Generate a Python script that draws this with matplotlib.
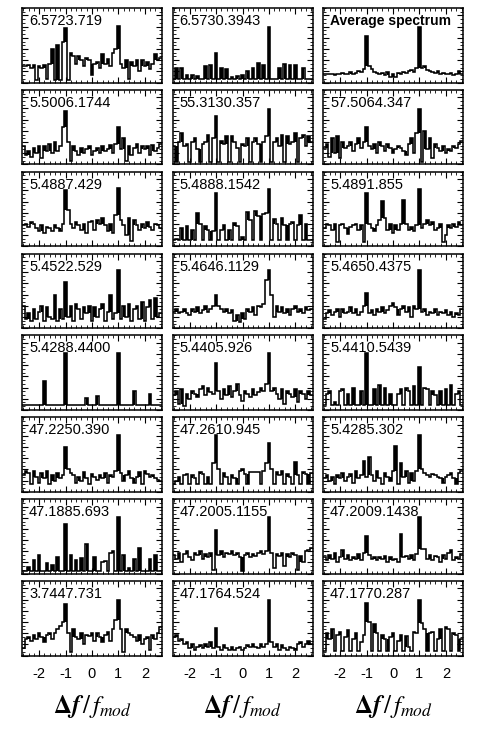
import numpy as np
import matplotlib
matplotlib.use('Agg')
import matplotlib.pyplot as plt
from matplotlib.ticker import MultipleLocator

plt.rcParams['font.family'] = ['Liberation Sans', 'DejaVu Sans']
plt.rcParams['axes.unicode_minus'] = False
plt.rcParams['mathtext.fontset'] = 'stix'

# panel titles, row by row
labels = ['6.5723.719', '6.5730.3943', 'Average spectrum',
          '5.5006.1744', '55.3130.357', '57.5064.347',
          '5.4887.429', '5.4888.1542', '5.4891.855',
          '5.4522.529', '5.4646.1129', '5.4650.4375',
          '5.4288.4400', '5.4405.926', '5.4410.5439',
          '47.2250.390', '47.2610.945', '5.4285.302',
          '47.1885.693', '47.2005.1155', '47.2009.1438',
          '3.7447.731', '47.1764.524', '47.1770.287']

xticks = [-2, -1, 0, 1, 2]

# relative power in 53 bins from -2.6 to 2.6 (step 0.1)
p11 = [0.22, 0.22, 0.24, 0.20, 0.23, 0.03, 0.22, 0.20, 0.24, 0.05, 0.25, 0.45, 0.03, 0.50, 0.03, 0.55,
       0.73,
       0.03, 0.40, 0.35, 0.25, 0.35, 0.30, 0.22, 0.33, 0.30, 0.10, 0.25, 0.28, 0.20, 0.38, 0.25, 0.32, 0.22, 0.40, 0.45,
       0.76,
       0.25, 0.20, 0.30, 0.05, 0.28, 0.22, 0.30, 0.15, 0.30, 0.22, 0.28, 0.18, 0.25, 0.38, 0.30, 0.33]
p12 = [0.05, 0.20, 0.05, 0.19, 0.05, 0.10, 0.05, 0.10, 0.05, 0.09,
       0.05, 0.05, 0.22, 0.05, 0.23, 0.05, 0.39, 0.05, 0.19, 0.05,
       0.18, 0.05, 0.08, 0.05, 0.09, 0.05, 0.10, 0.05, 0.16, 0.05,
       0.19, 0.05, 0.26, 0.05, 0.23, 0.05, 0.75, 0.05, 0.05, 0.05,
       0.19, 0.05, 0.25, 0.05, 0.24, 0.05, 0.23, 0.05, 0.05, 0.20,
       0.05, 0.05, 0.05]
p13 = [0.12, 0.11, 0.12, 0.12, 0.10, 0.11, 0.12, 0.13, 0.11, 0.12, 0.14, 0.12, 0.13, 0.15, 0.14, 0.18,
       0.62,
       0.22, 0.18, 0.14, 0.13, 0.12, 0.13, 0.10, 0.14, 0.08, 0.12, 0.07, 0.13, 0.12, 0.14, 0.13, 0.15, 0.17, 0.14, 0.20,
       0.75,
       0.20, 0.22, 0.17, 0.15, 0.14, 0.13, 0.15, 0.12, 0.13, 0.11, 0.12, 0.13, 0.10, 0.12, 0.15, 0.12]
p21 = [0.25, 0.12, 0.18, 0.10, 0.22, 0.15, 0.25, 0.08, 0.24, 0.18, 0.28, 0.15, 0.30, 0.18, 0.25, 0.50,
       0.72,
       0.30, 0.05, 0.25, 0.18, 0.12, 0.22, 0.15, 0.20, 0.25, 0.12, 0.18, 0.22, 0.15, 0.24, 0.18, 0.20, 0.26, 0.15, 0.28,
       0.50,
       0.20, 0.35, 0.05, 0.25, 0.12, 0.22, 0.28, 0.15, 0.25, 0.20, 0.24, 0.12, 0.26, 0.18, 0.22, 0.28]
p22 = [0.25, 0.03, 0.30, 0.42, 0.25, 0.28, 0.03, 0.30, 0.35, 0.20, 0.03, 0.28, 0.30, 0.40, 0.03, 0.35,
       0.65,
       0.03, 0.32, 0.28, 0.38, 0.03, 0.38, 0.30, 0.22, 0.03, 0.28, 0.25, 0.35, 0.03, 0.30, 0.35, 0.28, 0.03, 0.30, 0.38,
       0.74,
       0.03, 0.30, 0.35, 0.25, 0.40, 0.03, 0.38, 0.28, 0.30, 0.42, 0.03, 0.35, 0.40, 0.25, 0.38, 0.30]
p23 = [0.22, 0.28, 0.10, 0.35, 0.15, 0.38, 0.08, 0.30, 0.22, 0.25, 0.30, 0.18, 0.28, 0.35, 0.22, 0.30,
       0.50,
       0.25, 0.20, 0.28, 0.15, 0.30, 0.25, 0.18, 0.28, 0.22, 0.15, 0.20, 0.25, 0.22, 0.18, 0.12, 0.28, 0.35, 0.15, 0.42,
       0.74,
       0.03, 0.45, 0.20, 0.35, 0.08, 0.28, 0.22, 0.18, 0.25, 0.15, 0.20, 0.18, 0.25, 0.22, 0.28, 0.32]
p31 = [0.28, 0.30, 0.26, 0.32, 0.30, 0.25, 0.20, 0.28, 0.18, 0.26, 0.25, 0.20, 0.28, 0.25, 0.20, 0.30,
       0.76,
       0.49, 0.30, 0.25, 0.32, 0.28, 0.22, 0.30, 0.18, 0.32, 0.34, 0.22, 0.35, 0.30, 0.38, 0.28, 0.20, 0.30, 0.18, 0.42,
       0.78,
       0.35, 0.28, 0.15, 0.38, 0.07, 0.35, 0.28, 0.22, 0.30, 0.25, 0.32, 0.26, 0.22, 0.30, 0.28, 0.25]
p32 = [0.08, 0.10, 0.08, 0.25, 0.08, 0.27, 0.08, 0.22, 0.08, 0.44, 0.30, 0.08, 0.27, 0.22, 0.08, 0.20,
       0.72,
       0.08, 0.22, 0.29, 0.08, 0.22, 0.08, 0.31, 0.27, 0.08, 0.12, 0.08, 0.46, 0.35, 0.08, 0.47, 0.40, 0.08, 0.43, 0.44,
       0.77,
       0.08, 0.36, 0.30, 0.08, 0.38, 0.28, 0.08, 0.30, 0.33, 0.08, 0.28, 0.42, 0.08, 0.30, 0.08, 0.08]
p33 = [0.25, 0.30, 0.28, 0.22, 0.30, 0.05, 0.28, 0.30, 0.25, 0.16, 0.26, 0.28, 0.30, 0.22, 0.28, 0.05,
       0.71,
       0.30, 0.25, 0.20, 0.28, 0.35, 0.61, 0.38, 0.22, 0.30, 0.18, 0.28, 0.22, 0.30, 0.62, 0.30, 0.22, 0.26, 0.20, 0.28,
       0.77,
       0.25, 0.30, 0.35, 0.28, 0.32, 0.22, 0.25, 0.30, 0.05, 0.15, 0.28, 0.25, 0.30, 0.26, 0.32, 0.28]
p41 = [0.30, 0.12, 0.20, 0.10, 0.25, 0.12, 0.22, 0.30, 0.10, 0.28, 0.15, 0.12, 0.44, 0.10, 0.25, 0.12,
       0.62,
       0.15, 0.30, 0.10, 0.32, 0.25, 0.12, 0.28, 0.20, 0.30, 0.10, 0.28, 0.15, 0.25, 0.32, 0.10, 0.22, 0.45, 0.12, 0.20,
       0.78,
       0.12, 0.30, 0.15, 0.32, 0.10, 0.25, 0.30, 0.12, 0.35, 0.10, 0.28, 0.38, 0.12, 0.40, 0.15, 0.20]
p42 = [0.22, 0.25, 0.20, 0.22, 0.26, 0.20, 0.18, 0.25, 0.22, 0.28, 0.20, 0.24, 0.30, 0.22, 0.25, 0.30,
       0.45,
       0.30, 0.25, 0.22, 0.26, 0.20, 0.24, 0.10, 0.18, 0.08, 0.20, 0.12, 0.26, 0.22, 0.28, 0.18, 0.30, 0.28, 0.32, 0.64,
       0.78,
       0.45, 0.15, 0.30, 0.22, 0.28, 0.20, 0.25, 0.18, 0.26, 0.30, 0.22, 0.25, 0.20, 0.28, 0.24, 0.26]
p43 = [0.12, 0.20, 0.24, 0.18, 0.22, 0.26, 0.15, 0.25, 0.20, 0.22, 0.28, 0.20, 0.25, 0.18, 0.22, 0.30,
       0.47,
       0.20, 0.24, 0.18, 0.26, 0.22, 0.28, 0.20, 0.24, 0.30, 0.33, 0.28, 0.18, 0.25, 0.30, 0.22, 0.28, 0.15, 0.30, 0.25,
       0.78,
       0.22, 0.26, 0.18, 0.22, 0.20, 0.25, 0.18, 0.22, 0.20, 0.24, 0.18, 0.22, 0.15, 0.20, 0.18, 0.25]
p51 = [0.065, 0.065, 0.065, 0.065, 0.065, 0.065, 0.065, 0.065, 0.39, 0.065,
       0.065, 0.065, 0.065, 0.065, 0.065, 0.065, 0.77, 0.065, 0.065, 0.065,
       0.065, 0.065, 0.065, 0.065, 0.16, 0.065, 0.065, 0.065, 0.19, 0.065,
       0.065, 0.065, 0.065, 0.065, 0.065, 0.065, 0.77, 0.065, 0.065, 0.065,
       0.065, 0.065, 0.26, 0.065, 0.065, 0.065, 0.065, 0.065, 0.22, 0.065,
       0.065, 0.065, 0.065]
p52 = [0.20, 0.25, 0.08, 0.28, 0.05, 0.22, 0.15, 0.25, 0.22, 0.18, 0.28, 0.32, 0.20, 0.30, 0.24, 0.22,
       0.63,
       0.25, 0.15, 0.28, 0.20, 0.32, 0.18, 0.25, 0.35, 0.20, 0.12, 0.26, 0.22, 0.18, 0.28, 0.20, 0.24, 0.30, 0.26, 0.35,
       0.77,
       0.25, 0.30, 0.22, 0.15, 0.28, 0.08, 0.26, 0.22, 0.18, 0.28, 0.10, 0.25, 0.22, 0.15, 0.26, 0.20]
p53 = [0.06, 0.22, 0.25, 0.06, 0.10, 0.06, 0.25, 0.28, 0.06, 0.22, 0.06, 0.30, 0.06, 0.06, 0.26, 0.06,
       0.77,
       0.06, 0.06, 0.28, 0.06, 0.34, 0.06, 0.30, 0.06, 0.22, 0.06, 0.06, 0.22, 0.28, 0.06, 0.30, 0.25, 0.06, 0.32, 0.06,
       0.57,
       0.06, 0.30, 0.28, 0.06, 0.26, 0.20, 0.06, 0.25, 0.06, 0.28, 0.06, 0.33, 0.06, 0.22, 0.25, 0.06]
p61 = [0.22, 0.28, 0.25, 0.10, 0.28, 0.20, 0.12, 0.25, 0.18, 0.28, 0.10, 0.22, 0.15, 0.25, 0.18, 0.22,
       0.60,
       0.30, 0.25, 0.22, 0.12, 0.20, 0.15, 0.26, 0.18, 0.10, 0.24, 0.20, 0.16, 0.22, 0.18, 0.25, 0.12, 0.22, 0.20, 0.28,
       0.76,
       0.25, 0.15, 0.22, 0.28, 0.18, 0.12, 0.20, 0.26, 0.10, 0.28, 0.24, 0.20, 0.22, 0.18, 0.16, 0.15]
p62 = [0.10, 0.15, 0.20, 0.10, 0.22, 0.24, 0.10, 0.22, 0.18, 0.10, 0.26, 0.24, 0.10, 0.20, 0.10, 0.38,
       0.76,
       0.30, 0.10, 0.25, 0.20, 0.10, 0.22, 0.18, 0.10, 0.28, 0.30, 0.24, 0.10, 0.26, 0.27, 0.26, 0.27, 0.10, 0.28, 0.38,
       0.66,
       0.30, 0.10, 0.26, 0.22, 0.28, 0.10, 0.24, 0.20, 0.10, 0.40, 0.22, 0.10, 0.27, 0.24, 0.10, 0.25]
p63 = [0.18, 0.22, 0.15, 0.20, 0.10, 0.22, 0.18, 0.25, 0.15, 0.20, 0.24, 0.12, 0.28, 0.18, 0.22, 0.42,
       0.20,
       0.47, 0.22, 0.15, 0.28, 0.18, 0.10, 0.25, 0.20, 0.15, 0.28, 0.62, 0.10, 0.38, 0.20, 0.28, 0.12, 0.25, 0.15, 0.28,
       0.76,
       0.30, 0.25, 0.22, 0.20, 0.24, 0.22, 0.20, 0.18, 0.12, 0.20, 0.22, 0.25, 0.18, 0.10, 0.25, 0.28]
p71 = [0.035, 0.035, 0.09, 0.035, 0.18, 0.035, 0.25, 0.035, 0.035, 0.14,
       0.035, 0.11, 0.035, 0.22, 0.035, 0.035, 0.66, 0.035, 0.25, 0.035,
       0.19, 0.035, 0.21, 0.035, 0.40, 0.035, 0.035, 0.23, 0.035, 0.035,
       0.16, 0.17, 0.035, 0.28, 0.31, 0.035, 0.76, 0.035, 0.25, 0.035,
       0.08, 0.035, 0.20, 0.035, 0.34, 0.035, 0.035, 0.035, 0.20, 0.035,
       0.25, 0.035, 0.035]
p72 = [0.25, 0.20, 0.28, 0.15, 0.26, 0.30, 0.22, 0.18, 0.28, 0.25, 0.30, 0.20, 0.26, 0.22, 0.28, 0.05,
       0.58,
       0.25, 0.30, 0.22, 0.28, 0.26, 0.30, 0.25, 0.28, 0.22, 0.03, 0.25, 0.28, 0.22, 0.26, 0.24, 0.28, 0.30, 0.26, 0.30,
       0.76,
       0.28, 0.08, 0.26, 0.24, 0.28, 0.10, 0.26, 0.22, 0.28, 0.25, 0.05, 0.24, 0.15, 0.30, 0.32, 0.35]
p73 = [0.22, 0.18, 0.25, 0.20, 0.28, 0.15, 0.22, 0.32, 0.20, 0.25, 0.18, 0.22, 0.20, 0.26, 0.18, 0.28,
       0.51,
       0.25, 0.20, 0.22, 0.18, 0.22, 0.20, 0.24, 0.15, 0.22, 0.18, 0.20, 0.15, 0.53, 0.22, 0.24, 0.20, 0.25, 0.18, 0.26,
       0.76,
       0.33, 0.33, 0.20, 0.25, 0.18, 0.24, 0.22, 0.15, 0.25, 0.20, 0.28, 0.32, 0.18, 0.22, 0.20, 0.26]
p81 = [0.10, 0.22, 0.25, 0.20, 0.28, 0.22, 0.30, 0.25, 0.18, 0.28, 0.30, 0.22, 0.30, 0.35, 0.40, 0.45,
       0.69,
       0.30, 0.05, 0.35, 0.25, 0.22, 0.30, 0.15, 0.28, 0.26, 0.30, 0.20, 0.30, 0.25, 0.18, 0.28, 0.32, 0.20, 0.35, 0.48,
       0.75,
       0.35, 0.05, 0.35, 0.30, 0.28, 0.25, 0.20, 0.28, 0.15, 0.22, 0.25, 0.08, 0.28, 0.22, 0.30, 0.38]
p82 = [0.25, 0.28, 0.20, 0.22, 0.15, 0.18, 0.10, 0.15, 0.08, 0.12, 0.14, 0.10, 0.16, 0.12, 0.18, 0.10,
       0.37,
       0.12, 0.08, 0.14, 0.10, 0.07, 0.12, 0.08, 0.10, 0.12, 0.07, 0.10, 0.14, 0.12, 0.16, 0.12, 0.10, 0.15, 0.12, 0.16,
       0.75,
       0.18, 0.12, 0.15, 0.08, 0.14, 0.10, 0.07, 0.12, 0.10, 0.08, 0.15, 0.18, 0.12, 0.16, 0.20, 0.15]
p83 = [0.06, 0.30, 0.22, 0.35, 0.06, 0.28, 0.32, 0.06, 0.25, 0.34, 0.06, 0.22, 0.30, 0.06, 0.18, 0.28,
       0.70,
       0.45, 0.06, 0.42, 0.30, 0.06, 0.28, 0.22, 0.06, 0.25, 0.30, 0.06, 0.20, 0.28, 0.06, 0.26, 0.12, 0.06, 0.32, 0.30,
       0.75,
       0.44, 0.35, 0.06, 0.30, 0.32, 0.06, 0.22, 0.35, 0.06, 0.38, 0.36, 0.06, 0.30, 0.28, 0.06, 0.22]

panels = [p11, p12, p13, p21, p22, p23, p31, p32, p33, p41, p42, p43,
          p51, p52, p53, p61, p62, p63, p71, p72, p73, p81, p82, p83]

W, H = 491, 736
col_left = [22, 172.5, 323]
pw, ph = 140, 74.5
row_top, row_step = 8, 81.86

edges = np.linspace(-2.65, 2.65, 54)
centers = 0.5 * (edges[:-1] + edges[1:])

fig = plt.figure(figsize=(W / 100, H / 100), dpi=100)

for k, (vals, lab) in enumerate(zip(panels, labels)):
    r, c = divmod(k, 3)
    top = row_top + r * row_step
    ax = fig.add_axes([col_left[c] / W, 1 - (top + ph) / H, pw / W, ph / H])
    v = np.array(vals)
    ax.stairs(v, edges, baseline=None, color='k', lw=1.15)
    # single-bin spikes and dips print as solid strokes in the original
    left = np.r_[v[0], v[:-1]]
    right = np.r_[v[1:], v[-1]]
    hi_n = np.maximum(left, right)
    lo_n = np.minimum(left, right)
    spike = v > hi_n
    next_to_spike = np.r_[False, spike[:-1]] | np.r_[spike[1:], False]
    dip = (v < lo_n) & ~next_to_spike
    ax.bar(centers[spike], (v - hi_n)[spike], bottom=hi_n[spike], width=0.09,
           color='k', lw=0)
    ax.bar(centers[dip], (lo_n - v)[dip], bottom=v[dip], width=0.09,
           color='k', lw=0)
    ax.set_xlim(-2.65, 2.65)
    ax.set_ylim(0, 1)
    ax.set_xticks(xticks)
    ax.xaxis.set_minor_locator(MultipleLocator(0.2))
    ax.yaxis.set_major_locator(MultipleLocator(0.15))
    ax.yaxis.set_minor_locator(MultipleLocator(0.05))
    ax.tick_params(which='both', direction='in', top=True, right=True,
                   labelleft=False, labelbottom=(r == 7), labelsize=10.5, pad=8)
    ax.tick_params(which='major', length=4, width=0.8)
    ax.tick_params(which='minor', length=2, width=0.6)
    for s in ax.spines.values():
        s.set_linewidth(1.1)
    if lab == 'Average spectrum':
        ax.text(0.05, 0.92, lab, transform=ax.transAxes, va='top', ha='left',
                fontsize=10, fontweight='bold')
    else:
        ax.text(0.05, 0.92, lab, transform=ax.transAxes, va='top', ha='left',
                fontsize=10.5)

for c in range(3):
    fig.text((col_left[c] + pw / 2) / W, 1 - 707 / H,
             r'$\boldsymbol{\Delta f}\,/\,\boldsymbol{f_{mod}}$',
             ha='center', va='center', fontsize=18)

fig.savefig('out.png', dpi=100)
